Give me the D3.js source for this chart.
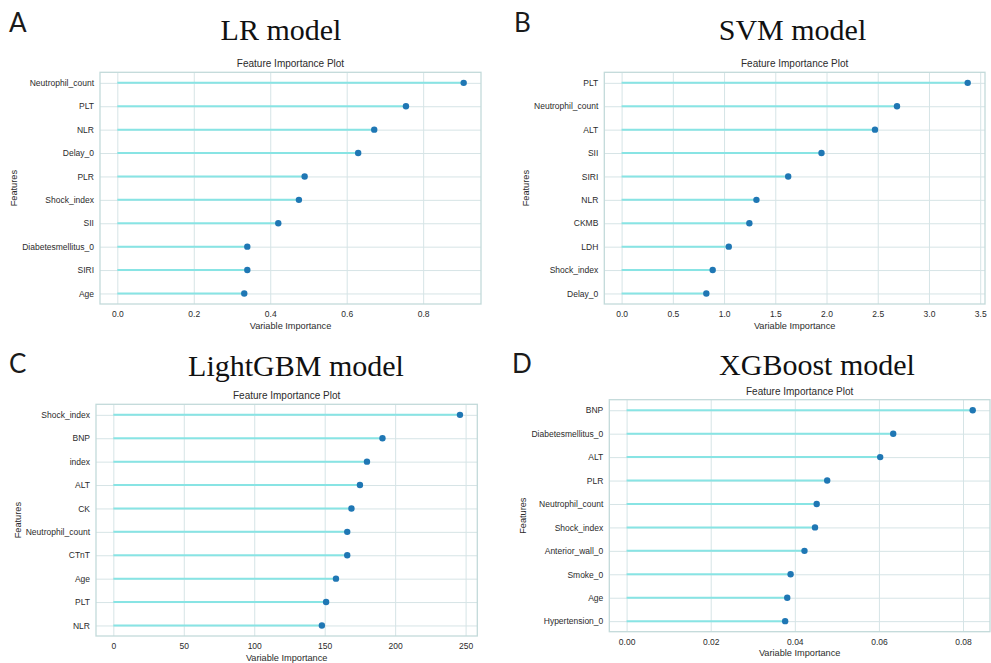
<!DOCTYPE html>
<html>
<head>
<meta charset="utf-8">
<script src="https://cdn.jsdelivr.net/npm/d3@7/dist/d3.min.js"></script>
<style>
  html, body { margin: 0; padding: 0; background: #ffffff; }
  svg { display: block; }
</style>
</head>
<body>
<svg id="chart" width="991" height="663"></svg>
<script>
// Feature importance values per model (top 10 features, highest first)
const lrFeatures = ["Neutrophil_count", "PLT", "NLR", "Delay_0", "PLR", "Shock_index", "SII", "Diabetesmellitus_0", "SIRI", "Age"];
const lrValues = [0.906, 0.755, 0.672, 0.630, 0.490, 0.475, 0.421, 0.340, 0.340, 0.332];
const lrTicks = [0, 0.2, 0.4, 0.6, 0.8];

const svmFeatures = ["PLT", "Neutrophil_count", "ALT", "SII", "SIRI", "NLR", "CKMB", "LDH", "Shock_index", "Delay_0"];
const svmValues = [3.378, 2.688, 2.473, 1.951, 1.626, 1.316, 1.247, 1.046, 0.889, 0.827];
const svmTicks = [0, 0.5, 1.0, 1.5, 2.0, 2.5, 3.0, 3.5];

const lgbmFeatures = ["Shock_index", "BNP", "index", "ALT", "CK", "Neutrophil_count", "CTnT", "Age", "PLT", "NLR"];
const lgbmValues = [246, 191, 180, 175, 169, 166, 166, 158, 151, 148];
const lgbmTicks = [0, 50, 100, 150, 200, 250];

const xgbFeatures = ["BNP", "Diabetesmellitus_0", "ALT", "PLR", "Neutrophil_count", "Shock_index", "Anterior_wall_0", "Smoke_0", "Age", "Hypertension_0"];
const xgbValues = [0.0823, 0.0634, 0.0603, 0.0477, 0.0452, 0.0448, 0.0423, 0.0390, 0.0382, 0.0377];
const xgbTicks = [0, 0.02, 0.04, 0.06, 0.08];

const panelLetters = ["A", "B", "C", "D"];
const modelTitles = ["LR model", "SVM model", "LightGBM model", "XGBoost model"];
const plotTitle = "Feature Importance Plot";
const xLabel = "Variable Importance";
const yLabel = "Features";

// Panel geometry: plot frame, headline and label positions
const layout = [
  { left: 100,   right: 481,   top: 72.3,  bottom: 304,   titleX: 281, titleY: 39.5,  letterX: 9,   letterY: 32,  yLabX: 13.7,  fmt: ".1f" },
  { left: 604.3, right: 985,   top: 72.3,  bottom: 304,   titleX: 792.5, titleY: 40,  letterX: 514, letterY: 31.7, yLabX: 526, fmt: ".1f" },
  { left: 96,    right: 477.3, top: 404.3, bottom: 636,   titleX: 296, titleY: 375.5, letterX: 9,   letterY: 373, yLabX: 17.5,  fmt: "d" },
  { left: 609.3, right: 990,   top: 399.7, bottom: 631.7, titleX: 817, titleY: 375.3, letterX: 512, letterY: 373, yLabX: 523,  fmt: ".2f" }
];

const panels = [
  { features: lrFeatures,   values: lrValues,   ticks: lrTicks },
  { features: svmFeatures,  values: svmValues,  ticks: svmTicks },
  { features: lgbmFeatures, values: lgbmValues, ticks: lgbmTicks },
  { features: xgbFeatures,  values: xgbValues,  ticks: xgbTicks }
];

const colors = {
  grid: "#d6e4e6",
  frame: "#c3dada",
  stem: "#88e4e4",
  dot: "#1f77b4",
  text: "#2b2b2b"
};

const svg = d3.select("#chart");
const sansFont = "'Liberation Sans', Arial, sans-serif";

panels.forEach((p, i) => {
  const L = layout[i];
  const g = svg.append("g");
  const vmax = d3.max(p.values);

  const x = d3.scaleLinear()
    .domain([-0.05 * vmax, 1.05 * vmax])
    .range([L.left, L.right]);

  const y = d3.scalePoint()
    .domain(p.features)
    .range([L.top, L.bottom])
    .padding(0.45);

  // Panel letter and model headline
  g.append("text")
    .attr("x", L.letterX).attr("y", L.letterY)
    .attr("font-family", "Lato, 'Open Sans', sans-serif")
    .attr("font-size", 26)
    .attr("fill", "#1a1a1a")
    .text(panelLetters[i]);

  g.append("text")
    .attr("x", L.titleX).attr("y", L.titleY)
    .attr("text-anchor", "middle")
    .attr("font-family", "'Liberation Serif', 'Times New Roman', serif")
    .attr("font-size", 30)
    .attr("fill", "#111")
    .text(modelTitles[i]);

  g.append("text")
    .attr("x", (L.left + L.right) / 2).attr("y", L.top - 5)
    .attr("text-anchor", "middle")
    .attr("font-family", sansFont)
    .attr("font-size", 10)
    .attr("fill", colors.text)
    .text(plotTitle);

  // Vertical grid lines with x tick labels
  const xAxis = d3.axisBottom(x)
    .tickValues(p.ticks)
    .tickSize(-(L.bottom - L.top))
    .tickPadding(7)
    .tickFormat(d3.format(L.fmt));

  const xg = g.append("g")
    .attr("transform", `translate(0,${L.bottom})`)
    .call(xAxis);
  xg.select(".domain").remove();
  xg.selectAll(".tick line").attr("stroke", colors.grid).attr("stroke-width", 1);
  xg.selectAll(".tick text")
    .attr("font-family", sansFont)
    .attr("font-size", 8.5)
    .attr("fill", colors.text);

  // Horizontal grid lines with feature labels
  const yAxis = d3.axisLeft(y)
    .tickSize(-(L.right - L.left))
    .tickPadding(6);

  const yg = g.append("g")
    .attr("transform", `translate(${L.left},0)`)
    .call(yAxis);
  yg.select(".domain").remove();
  yg.selectAll(".tick line").attr("stroke", colors.grid).attr("stroke-width", 1);
  yg.selectAll(".tick text")
    .attr("font-family", sansFont)
    .attr("font-size", 8.5)
    .attr("fill", colors.text);

  // Plot frame
  g.append("rect")
    .attr("x", L.left).attr("y", L.top)
    .attr("width", L.right - L.left).attr("height", L.bottom - L.top)
    .attr("fill", "none")
    .attr("stroke", colors.frame)
    .attr("stroke-width", 1.3);

  // Axis titles
  g.append("text")
    .attr("x", (L.left + L.right) / 2).attr("y", L.bottom + 24.5)
    .attr("text-anchor", "middle")
    .attr("font-family", sansFont)
    .attr("font-size", 9.2)
    .attr("fill", colors.text)
    .text(xLabel);

  const yMid = (L.top + L.bottom) / 2;
  g.append("text")
    .attr("transform", `translate(${L.yLabX + 3.3},${yMid}) rotate(-90)`)
    .attr("text-anchor", "middle")
    .attr("font-family", sansFont)
    .attr("font-size", 9.2)
    .attr("fill", colors.text)
    .text(yLabel);

  // Lollipop stems and heads
  const rows = p.features.map((f, k) => ({ feature: f, value: p.values[k] }));

  g.append("g").selectAll("line")
    .data(rows)
    .join("line")
    .attr("x1", x(0))
    .attr("x2", d => x(d.value))
    .attr("y1", d => y(d.feature))
    .attr("y2", d => y(d.feature))
    .attr("stroke", colors.stem)
    .attr("stroke-width", 2);

  g.append("g").selectAll("circle")
    .data(rows)
    .join("circle")
    .attr("cx", d => x(d.value))
    .attr("cy", d => y(d.feature))
    .attr("r", 3.2)
    .attr("fill", colors.dot);
});
</script>
</body>
</html>
